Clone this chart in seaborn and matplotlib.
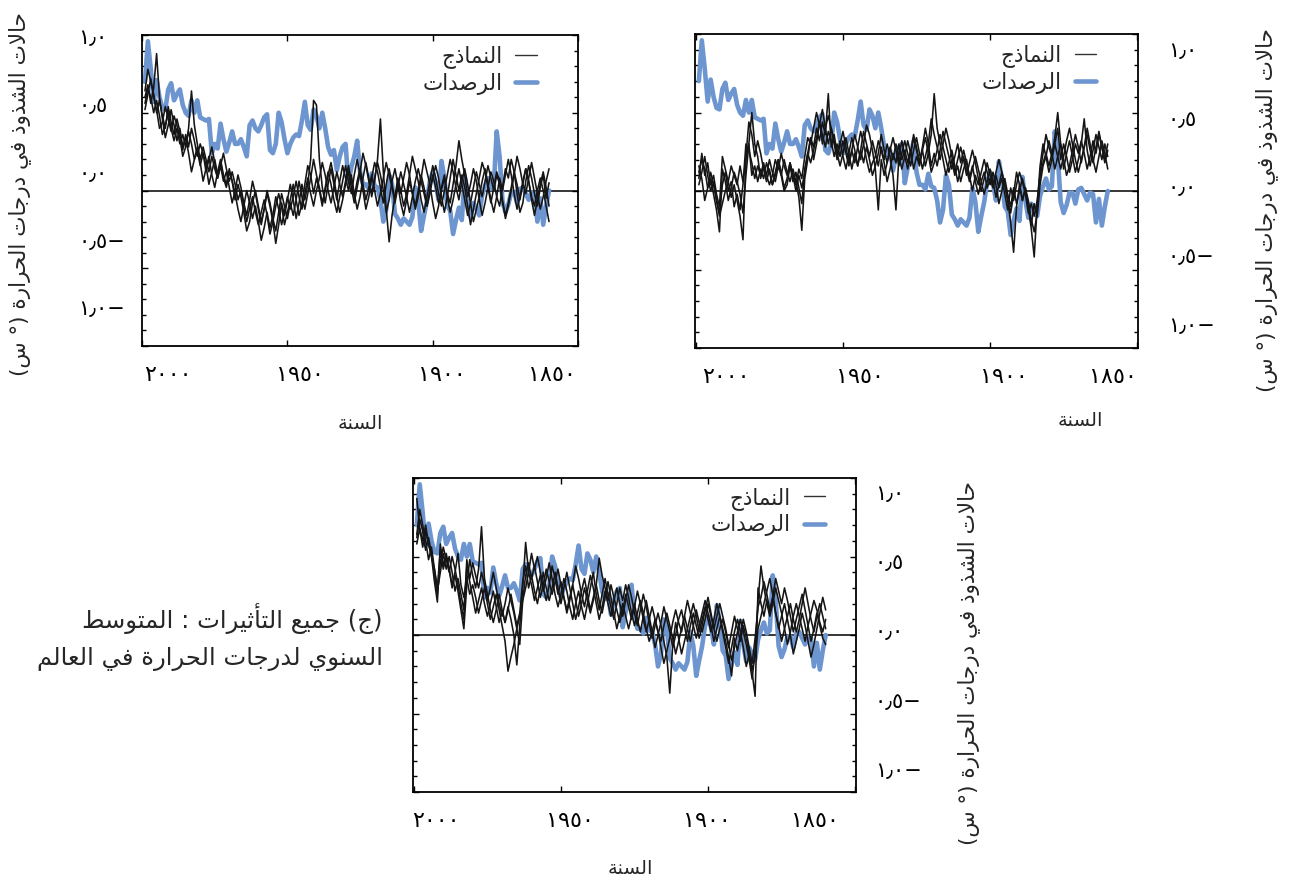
import numpy as np
import pandas as pd
import matplotlib
matplotlib.use("Agg")
import matplotlib.pyplot as plt
from matplotlib.lines import Line2D
from matplotlib.ticker import MultipleLocator
import seaborn as sns

# ==================================================
# DATA (annual anomalies, 1860-1999)
# ==================================================

years = np.arange(1860, 2000)

observations = [
    0.00, -0.10, -0.22, -0.05, -0.20, -0.02, -0.01, -0.06, -0.02, 0.02,
    0.01, -0.08, -0.01, -0.01, -0.09, -0.14, -0.07, 0.22, 0.38, 0.03,
    0.01, 0.08, 0.03, -0.03, -0.16, -0.12, -0.08, -0.17, -0.06, 0.09,
    -0.19, -0.11, -0.19, -0.28, -0.13, -0.10, 0.08, 0.19, -0.06, 0.05,
    0.12, 0.06, -0.07, -0.16, -0.26, -0.07, 0.02, -0.17, -0.22, -0.20,
    -0.18, -0.22, -0.18, -0.15, 0.04, 0.10, -0.12, -0.20, -0.06, 0.02,
    0.03, 0.11, 0.01, 0.04, 0.04, 0.12, 0.32, 0.22, 0.15, 0.05,
    0.30, 0.28, 0.22, 0.13, 0.26, 0.23, 0.28, 0.40, 0.50, 0.40,
    0.48, 0.52, 0.39, 0.42, 0.57, 0.45, 0.35, 0.36, 0.34, 0.30,
    0.24, 0.33, 0.44, 0.50, 0.30, 0.24, 0.26, 0.49, 0.47, 0.42,
    0.38, 0.40, 0.45, 0.42, 0.22, 0.28, 0.33, 0.30, 0.30, 0.38,
    0.31, 0.25, 0.33, 0.43, 0.27, 0.30, 0.24, 0.46, 0.45, 0.46,
    0.47, 0.58, 0.50, 0.58, 0.48, 0.50, 0.55, 0.65, 0.62, 0.58,
    0.69, 0.65, 0.52, 0.53, 0.60, 0.71, 0.57, 0.78, 0.96, 0.70,
]

# top-left panel: model runs
anthro_1 = [
    0.05, -0.05, 0.10, 0.02, -0.10, -0.02, 0.08, 0.16, 0.06, -0.08,
    -0.14, -0.02, 0.12, 0.20, 0.08, 0.14, 0.02, -0.10, -0.04, 0.06,
    0.12, 0.02, -0.08, -0.16, -0.06, 0.06, 0.14, 0.04, -0.04, 0.10,
    0.20, 0.32, 0.16, 0.04, -0.08, -0.02, 0.10, 0.02, -0.10, -0.18,
    -0.08, 0.04, 0.12, 0.20, 0.08, -0.04, -0.12, -0.02, 0.06, -0.06,
    -0.16, -0.08, 0.04, 0.14, 0.06, -0.06, -0.14, 0.00, 0.10, 0.18,
    0.08, -0.02, 0.06, 0.16, 0.24, 0.12, 0.02, -0.08, 0.02, 0.12,
    0.04, -0.06, -0.14, -0.04, 0.08, 0.18, 0.10, 0.00, -0.08, 0.02,
    0.10, 0.20, 0.08, -0.02, -0.12, -0.04, 0.06, -0.06, -0.16, -0.08,
    -0.18, -0.10, -0.02, -0.14, -0.26, -0.18, -0.08, 0.00, -0.12, -0.22,
    -0.12, -0.02, 0.06, -0.06, -0.16, -0.08, 0.02, 0.10, 0.00, -0.08,
    0.02, 0.12, 0.06, 0.16, 0.08, 0.18, 0.28, 0.20, 0.12, 0.24,
    0.30, 0.22, 0.32, 0.40, 0.28, 0.36, 0.26, 0.38, 0.46, 0.36,
    0.44, 0.54, 0.40, 0.48, 0.58, 0.50, 0.62, 0.70, 0.78, 0.64,
]
anthro_2 = [
    -0.10, 0.02, 0.12, 0.04, -0.06, -0.16, -0.06, 0.06, 0.14, 0.06,
    -0.04, -0.12, -0.02, 0.10, 0.20, 0.10, 0.00, 0.08, -0.04, -0.14,
    -0.06, 0.04, 0.14, 0.06, -0.04, -0.12, -0.20, -0.08, 0.04, 0.14,
    0.06, -0.06, 0.02, 0.12, 0.20, 0.10, 0.00, -0.10, -0.02, 0.08,
    0.16, 0.06, -0.04, -0.14, -0.06, 0.06, 0.14, 0.22, 0.10, -0.02,
    -0.10, 0.00, 0.08, -0.04, -0.16, -0.33, -0.12, 0.12, 0.46, 0.20,
    0.06, -0.04, 0.08, 0.18, 0.08, -0.04, -0.12, -0.02, 0.10, 0.00,
    0.08, 0.16, 0.06, -0.06, 0.04, 0.14, 0.04, -0.08, 0.02, 0.20,
    0.55, 0.58, 0.20, 0.04, -0.06, 0.04, -0.08, -0.18, -0.06, 0.04,
    -0.06, -0.16, -0.08, -0.22, -0.34, -0.20, -0.10, -0.02, -0.12, -0.20,
    -0.10, 0.00, -0.08, -0.20, -0.26, -0.14, -0.04, 0.04, -0.06, 0.06,
    0.14, 0.04, 0.10, 0.20, 0.12, 0.02, 0.10, 0.22, 0.14, 0.06,
    0.18, 0.28, 0.20, 0.12, 0.24, 0.34, 0.28, 0.40, 0.32, 0.42,
    0.52, 0.42, 0.34, 0.46, 0.60, 0.88, 0.66, 0.56, 0.68, 0.60,
]
anthro_3 = [
    0.14, 0.06, -0.04, -0.12, -0.02, 0.08, 0.18, 0.08, -0.02, 0.04,
    0.14, 0.22, 0.10, 0.00, -0.10, -0.18, -0.06, 0.06, 0.12, 0.02,
    -0.08, 0.02, 0.12, 0.18, 0.08, -0.02, -0.12, -0.22, -0.10, 0.02,
    0.10, 0.00, 0.10, 0.20, 0.08, -0.04, -0.14, -0.04, 0.08, 0.16,
    0.08, -0.02, -0.10, 0.02, 0.10, 0.00, -0.10, -0.02, 0.10, 0.18,
    0.08, -0.02, 0.06, -0.06, 0.04, 0.14, 0.04, -0.08, 0.02, 0.12,
    0.18, 0.08, -0.04, -0.12, 0.00, 0.10, 0.20, 0.10, -0.02, 0.06,
    0.16, 0.06, -0.04, -0.14, -0.06, 0.04, 0.12, 0.02, -0.10, 0.00,
    0.08, -0.02, 0.10, 0.16, 0.04, -0.08, -0.16, -0.06, 0.04, -0.06,
    -0.14, -0.22, -0.10, -0.02, -0.10, -0.20, -0.28, -0.16, -0.06, -0.14,
    -0.22, -0.14, -0.04, -0.12, -0.20, -0.10, 0.00, -0.06, 0.04, 0.12,
    0.06, 0.14, 0.24, 0.16, 0.08, 0.14, 0.22, 0.12, 0.20, 0.28,
    0.20, 0.30, 0.42, 0.64, 0.40, 0.28, 0.36, 0.30, 0.40, 0.32,
    0.40, 0.50, 0.42, 0.36, 0.48, 0.58, 0.50, 0.60, 0.66, 0.56,
]
anthro_4 = [
    -0.20, -0.10, 0.00, 0.08, 0.00, -0.10, -0.04, 0.06, 0.14, 0.04,
    -0.06, 0.04, 0.12, 0.02, -0.08, -0.16, -0.08, 0.04, 0.10, 0.00,
    0.08, 0.16, 0.06, -0.04, 0.04, 0.12, 0.02, -0.08, -0.16, -0.06,
    0.04, 0.14, 0.04, -0.06, -0.14, -0.04, 0.08, 0.00, -0.08, 0.02,
    0.10, 0.00, -0.10, -0.02, 0.06, 0.14, 0.06, -0.04, -0.14, -0.04,
    0.04, 0.12, 0.02, -0.08, 0.02, 0.10, 0.18, 0.08, -0.02, -0.10,
    0.00, 0.10, 0.02, -0.06, 0.04, 0.14, 0.06, -0.04, 0.06, 0.16,
    0.06, -0.04, 0.04, 0.12, 0.02, -0.08, 0.00, 0.10, 0.18, 0.08,
    0.00, -0.10, -0.02, 0.08, -0.02, -0.12, -0.04, 0.06, -0.04, -0.12,
    -0.04, -0.14, -0.22, -0.12, -0.04, -0.16, -0.24, -0.14, -0.24, -0.32,
    -0.20, -0.10, -0.18, -0.08, 0.00, -0.10, -0.20, -0.12, -0.02, 0.06,
    0.12, 0.02, 0.08, 0.18, 0.10, 0.20, 0.12, 0.04, 0.16, 0.24,
    0.16, 0.26, 0.20, 0.30, 0.38, 0.28, 0.22, 0.34, 0.42, 0.48,
    0.38, 0.46, 0.54, 0.44, 0.40, 0.52, 0.60, 0.72, 0.62, 0.52,
]

# top-right panel: model runs
natural_1 = [
    0.22, 0.30, 0.20, 0.28, 0.36, 0.26, 0.16, 0.26, 0.46, 0.30,
    0.20, 0.12, 0.22, 0.32, 0.24, 0.14, 0.30, 0.50, 0.34, 0.22,
    0.28, 0.36, 0.24, 0.12, -0.14, -0.26, -0.18, -0.06, 0.02, -0.06,
    0.04, -0.10, -0.39, -0.20, -0.06, 0.04, 0.12, 0.04, -0.04, 0.06,
    0.14, 0.06, -0.02, 0.06, 0.14, 0.22, 0.14, 0.06, 0.14, 0.22,
    0.14, 0.06, 0.16, 0.26, 0.18, 0.10, 0.20, 0.30, 0.40, 0.62,
    0.36, 0.24, 0.16, 0.26, 0.18, 0.28, 0.36, 0.24, 0.14, 0.22,
    0.32, 0.22, -0.12, 0.10, 0.22, 0.30, 0.20, 0.28, 0.16, 0.24,
    0.32, 0.22, 0.30, 0.38, 0.26, 0.16, 0.26, 0.34, 0.24, 0.14,
    0.22, 0.32, 0.24, 0.36, 0.28, 0.62, 0.36, 0.44, 0.32, 0.40,
    0.28, 0.34, 0.20, 0.08, -0.25, -0.04, 0.06, 0.14, 0.06, 0.12,
    0.20, 0.10, 0.16, 0.06, 0.12, 0.20, 0.10, 0.16, 0.08, 0.22,
    0.30, 0.50, 0.30, 0.10, -0.14, -0.02, 0.06, 0.12, 0.02, -0.06,
    0.06, 0.14, -0.26, -0.12, -0.02, 0.08, 0.02, 0.14, 0.20, 0.12,
]
natural_2 = [
    0.30, 0.20, 0.28, 0.38, 0.28, 0.18, 0.26, 0.36, 0.28, 0.20,
    0.12, 0.20, 0.30, 0.40, 0.32, 0.22, 0.14, 0.22, 0.30, 0.20,
    0.12, 0.22, 0.30, 0.16, -0.10, -0.42, -0.24, -0.10, 0.02, -0.06,
    0.04, 0.12, -0.02, -0.14, -0.06, 0.04, 0.12, 0.20, 0.12, 0.04,
    0.10, 0.18, 0.08, 0.00, 0.08, 0.18, 0.26, 0.18, 0.10, 0.20,
    0.28, 0.20, 0.12, 0.22, 0.32, 0.40, 0.30, 0.20, 0.28, 0.36,
    0.46, 0.30, 0.22, 0.14, 0.24, 0.34, 0.26, 0.16, 0.24, 0.32,
    0.24, 0.16, 0.26, 0.34, 0.26, 0.18, 0.10, 0.20, -0.12, 0.14,
    0.26, 0.36, 0.42, 0.30, 0.20, 0.28, 0.36, 0.26, 0.18, 0.28,
    0.38, 0.30, 0.20, 0.30, 0.40, 0.48, 0.40, 0.30, 0.44, 0.34,
    0.26, 0.18, 0.24, 0.12, 0.02, 0.10, 0.00, 0.10, 0.18, 0.08,
    0.02, 0.12, 0.20, 0.10, 0.04, 0.14, 0.06, 0.14, 0.24, 0.32,
    0.22, 0.36, 0.44, 0.22, -0.31, -0.16, -0.06, 0.04, -0.04, 0.06,
    0.00, -0.08, -0.16, -0.06, 0.06, 0.00, 0.10, 0.22, 0.12, 0.04,
]
natural_3 = [
    0.14, 0.24, 0.32, 0.22, 0.12, 0.20, 0.30, 0.40, 0.28, 0.18,
    0.28, 0.36, 0.26, 0.16, 0.10, 0.20, 0.30, 0.22, 0.14, 0.24,
    0.32, 0.22, 0.16, 0.04, -0.16, -0.08, -0.22, -0.10, 0.00, 0.08,
    0.00, -0.08, 0.02, -0.10, -0.02, 0.08, 0.00, -0.08, 0.04, 0.12,
    0.04, 0.12, 0.20, 0.12, 0.04, 0.10, 0.00, 0.10, 0.18, 0.26,
    0.18, 0.30, 0.22, 0.14, 0.22, 0.30, 0.38, 0.26, 0.16, 0.24,
    0.16, 0.30, 0.40, 0.28, 0.18, 0.26, 0.34, 0.24, 0.32, 0.22,
    0.14, 0.22, 0.30, 0.20, 0.28, 0.18, 0.26, 0.36, 0.24, 0.16,
    0.10, 0.20, 0.28, 0.18, 0.26, 0.16, 0.24, 0.14, 0.24, 0.34,
    0.24, 0.16, 0.24, 0.32, 0.40, 0.30, 0.40, 0.52, 0.42, 0.50,
    0.40, 0.30, 0.34, 0.22, 0.08, 0.14, 0.04, 0.10, 0.18, 0.10,
    0.16, 0.24, 0.14, 0.20, 0.10, 0.04, 0.10, 0.18, 0.10, 0.16,
    0.08, 0.18, 0.26, 0.30, 0.04, -0.12, -0.02, -0.10, 0.06, 0.00,
    0.12, 0.04, -0.14, -0.06, 0.04, 0.12, 0.02, -0.06, 0.08, 0.16,
]
natural_4 = [
    0.26, 0.18, 0.28, 0.36, 0.24, 0.32, 0.22, 0.14, 0.24, 0.32,
    0.24, 0.30, 0.20, 0.12, 0.22, 0.30, 0.20, 0.40, 0.30, 0.24,
    0.16, 0.24, 0.18, 0.10, -0.06, -0.16, -0.08, -0.14, -0.02, 0.06,
    0.12, 0.04, -0.06, 0.02, -0.12, -0.02, 0.08, 0.02, 0.10, 0.02,
    0.08, 0.02, 0.12, 0.06, -0.02, 0.06, 0.16, 0.08, 0.20, 0.14,
    0.06, 0.16, 0.10, 0.20, 0.12, 0.20, 0.28, 0.36, 0.26, 0.18,
    0.12, 0.24, 0.34, 0.26, 0.16, 0.22, 0.14, 0.26, 0.18, 0.26,
    0.20, 0.30, 0.18, 0.24, 0.14, 0.06, 0.18, 0.26, 0.32, 0.22,
    0.18, 0.12, 0.20, 0.30, 0.38, 0.28, 0.18, 0.26, 0.16, 0.24,
    0.32, 0.22, 0.30, 0.22, 0.32, 0.38, 0.28, 0.36, 0.44, 0.30,
    0.20, 0.34, 0.24, 0.14, -0.08, 0.02, 0.12, 0.06, 0.16, 0.04,
    0.00, 0.10, 0.20, 0.12, 0.04, 0.12, 0.18, 0.08, 0.14, 0.06,
    0.16, 0.10, 0.30, 0.20, 0.06, 0.16, 0.04, 0.10, 0.16, 0.06,
    0.14, 0.22, -0.10, -0.02, 0.10, 0.04, 0.18, 0.10, 0.24, 0.08,
]

# bottom panel: model runs
combined_1 = [
    0.10, 0.02, 0.08, 0.16, 0.22, 0.14, 0.06, -0.04, 0.04, 0.12,
    0.20, 0.12, 0.02, -0.06, 0.04, 0.14, 0.22, 0.30, 0.20, 0.12,
    0.20, 0.30, 0.44, 0.22, -0.10, -0.28, -0.16, -0.06, 0.02, 0.10,
    0.02, -0.08, -0.16, -0.06, 0.04, 0.12, 0.20, 0.12, 0.04, 0.12,
    0.20, 0.10, 0.02, 0.08, 0.16, 0.06, -0.04, 0.04, 0.12, 0.04,
    -0.04, -0.12, -0.02, 0.06, 0.14, 0.06, -0.04, 0.02, 0.10, 0.18,
    0.10, 0.02, 0.10, 0.20, 0.28, 0.18, 0.10, 0.18, 0.26, 0.16,
    0.08, 0.16, 0.24, 0.32, 0.22, 0.30, 0.38, 0.49, 0.32, 0.22,
    0.14, 0.22, 0.30, 0.20, 0.12, 0.22, 0.32, 0.24, 0.16, 0.24,
    0.32, 0.42, 0.34, 0.26, 0.34, 0.42, 0.32, 0.24, 0.34, 0.44,
    0.36, 0.46, 0.38, 0.22, -0.06, 0.04, 0.14, 0.22, 0.30, 0.20,
    0.12, 0.20, 0.30, 0.40, 0.30, 0.22, 0.32, 0.40, 0.30, 0.38,
    0.46, 0.36, 0.48, 0.10, 0.20, 0.32, 0.42, 0.50, 0.40, 0.48,
    0.56, 0.46, 0.26, 0.38, 0.52, 0.62, 0.54, 0.66, 0.74, 0.62,
]
combined_2 = [
    -0.06, -0.02, 0.06, 0.14, 0.04, -0.04, 0.06, 0.16, 0.26, 0.18,
    0.10, 0.02, 0.12, 0.22, 0.30, 0.20, 0.28, 0.36, 0.24, 0.14,
    0.22, 0.12, 0.20, 0.30, -0.39, -0.24, -0.12, -0.20, -0.08, 0.02,
    0.10, 0.02, -0.08, -0.18, -0.08, 0.02, 0.12, 0.20, 0.10, 0.02,
    0.10, 0.18, 0.10, 0.02, 0.12, 0.20, 0.12, 0.04, -0.04, -0.12,
    -0.02, 0.08, -0.06, -0.37, -0.14, -0.04, 0.06, 0.14, 0.06, -0.02,
    0.08, 0.18, 0.26, 0.16, 0.06, 0.14, 0.24, 0.32, 0.22, 0.12,
    0.20, 0.30, 0.22, 0.12, 0.20, 0.28, 0.18, 0.10, 0.20, 0.30,
    0.38, 0.28, 0.18, 0.26, 0.36, 0.44, 0.32, 0.22, 0.14, 0.24,
    0.34, 0.26, 0.36, 0.44, 0.32, 0.22, 0.30, 0.40, 0.50, 0.42,
    0.52, 0.40, 0.59, 0.30, 0.06, -0.19, 0.00, 0.10, 0.18, 0.08,
    0.16, 0.26, 0.16, 0.08, 0.16, 0.26, 0.36, 0.69, 0.42, 0.30,
    0.38, 0.48, 0.32, 0.04, 0.16, 0.28, 0.38, 0.30, 0.42, 0.52,
    0.44, 0.58, 0.21, 0.34, 0.50, 0.58, 0.70, 0.60, 0.68, 0.87,
]
combined_3 = [
    0.16, 0.24, 0.14, 0.04, -0.06, -0.14, -0.04, 0.06, 0.14, 0.04,
    -0.04, -0.12, 0.00, 0.10, 0.20, 0.12, 0.04, 0.14, 0.24, 0.16,
    0.26, 0.34, 0.24, 0.18, -0.02, -0.18, -0.08, 0.02, 0.10, 0.00,
    -0.10, -0.02, -0.26, -0.14, -0.04, 0.04, 0.12, 0.04, -0.04, 0.06,
    0.14, 0.22, 0.14, 0.06, -0.02, 0.06, 0.14, 0.22, 0.12, 0.02,
    0.08, 0.16, 0.08, -0.02, -0.10, -0.18, -0.08, 0.02, 0.10, 0.02,
    -0.04, 0.04, 0.14, 0.22, 0.14, 0.06, 0.14, 0.24, 0.32, 0.22,
    0.30, 0.20, 0.10, 0.18, 0.26, 0.36, 0.26, 0.16, 0.26, 0.40,
    0.30, 0.20, 0.10, 0.18, 0.28, 0.20, 0.10, 0.18, 0.28, 0.36,
    0.26, 0.18, 0.26, 0.36, 0.46, 0.36, 0.28, 0.38, 0.30, 0.22,
    0.32, 0.40, 0.30, 0.22, 0.12, 0.04, -0.06, -0.14, -0.23, -0.04,
    0.06, 0.16, 0.26, 0.18, 0.10, 0.20, 0.30, 0.22, 0.14, 0.24,
    0.32, 0.26, 0.36, 0.24, 0.32, 0.52, 0.40, 0.32, 0.42, 0.50,
    0.42, 0.54, 0.30, 0.42, 0.50, 0.58, 0.66, 0.56, 0.68, 0.58,
]
combined_4 = [
    0.04, 0.12, 0.20, 0.12, 0.02, 0.10, 0.20, 0.30, 0.20, 0.10,
    0.02, 0.10, 0.20, 0.12, 0.04, -0.04, 0.06, 0.14, 0.26, 0.36,
    0.28, 0.20, 0.12, 0.04, -0.14, -0.22, -0.12, -0.02, 0.06, -0.04,
    0.04, 0.12, 0.02, -0.08, 0.02, 0.10, 0.04, -0.04, 0.04, 0.14,
    0.24, 0.16, 0.06, -0.02, 0.06, 0.14, 0.06, -0.04, 0.06, 0.16,
    0.10, 0.00, -0.08, 0.02, 0.10, 0.18, 0.08, 0.00, -0.08, 0.02,
    0.12, 0.22, 0.12, 0.02, 0.10, 0.20, 0.12, 0.04, 0.12, 0.20,
    0.12, 0.04, 0.14, 0.24, 0.34, 0.24, 0.14, 0.22, 0.32, 0.24,
    0.16, 0.26, 0.36, 0.28, 0.18, 0.10, 0.20, 0.30, 0.40, 0.30,
    0.20, 0.30, 0.40, 0.30, 0.22, 0.30, 0.40, 0.30, 0.20, 0.28,
    0.38, 0.30, 0.44, 0.34, 0.14, 0.06, 0.16, 0.26, 0.16, 0.08,
    0.16, 0.08, 0.18, 0.28, 0.20, 0.12, 0.20, 0.30, 0.22, 0.14,
    0.24, 0.34, 0.44, 0.16, 0.26, 0.36, 0.28, 0.40, 0.50, 0.42,
    0.52, 0.40, 0.28, 0.42, 0.56, 0.48, 0.60, 0.70, 0.80, 0.64,
]

# tick labels (Arabic-Indic digits)
xtick_years = [2000, 1950, 1900, 1850]
xtick_text = ["٢٠٠٠", "١٩٥٠", "١٩٠٠", "١٨٥٠"]
ytick_vals = [1.0, 0.5, 0.0, -0.5, -1.0]
ytick_text = ["١٫٠", "٠٫٥", "٠٫٠", "٠٫٥−", "١٫٠−"]

label_models = "النماذج"
label_obs = "الرصدات"
label_year = "السنة"
label_anomaly = "حالات الشذوذ في درجات الحرارة (° س)"
caption_lines = ["(ج) جميع التأثيرات : المتوسط", "السنوي لدرجات الحرارة في العالم"]

OBS_BLUE = "#6d95cf"
RUN_BLACK = "#151515"

# ==================================================
# SIMPLE ARABIC SHAPING (matplotlib has no bidi / joining)
# ==================================================

DUAL = {"ت": 0xFE95, "ث": 0xFE99, "ج": 0xFE9D, "ح": 0xFEA1, "س": 0xFEB1,
        "ش": 0xFEB5, "ص": 0xFEB9, "ط": 0xFEC1, "ع": 0xFEC9, "ف": 0xFED1,
        "ل": 0xFEDD, "م": 0xFEE1, "ن": 0xFEE5, "ه": 0xFEE9, "ي": 0xFEF1}
RIGHT = {"ا": 0xFE8D, "أ": 0xFE83, "ة": 0xFE93, "د": 0xFEA9, "ذ": 0xFEAB,
         "ر": 0xFEAD, "و": 0xFEED}
LETTERS = {**DUAL, **RIGHT}
LAM_ALEF = {"ا": (0xFEFB, 0xFEFC), "أ": (0xFEF7, 0xFEF8)}


def ar(text):
    out = []
    i = 0
    while i < len(text):
        ch = text[i]
        if ch not in LETTERS:
            out.append(ch)
            i += 1
            continue
        joins_prev = i > 0 and text[i - 1] in DUAL
        nxt = text[i + 1] if i + 1 < len(text) else ""
        if ch == "ل" and nxt in LAM_ALEF:
            iso, fin = LAM_ALEF[nxt]
            out.append(chr(fin if joins_prev else iso))
            i += 2
            continue
        joins_next = ch in DUAL and nxt in LETTERS
        base = LETTERS[ch]
        if joins_prev and joins_next:
            out.append(chr(base + 3))
        elif joins_prev:
            out.append(chr(base + 1))
        elif joins_next:
            out.append(chr(base + 2))
        else:
            out.append(chr(base))
        i += 1
    visual = "".join(reversed(out))
    return visual.translate(str.maketrans("()", ")("))


# ==================================================
# STYLE
# ==================================================

sns.set_theme(style="ticks", rc={
    "axes.linewidth": 1.3,
    "axes.edgecolor": "black",
    "xtick.color": "black",
    "ytick.color": "black",
})
plt.rcParams["font.family"] = ["DejaVu Sans"]

fig = plt.figure(figsize=(12.95, 8.82), dpi=100)

# where each year label sits (in data years) - the original labels drift
# away from their tick marks
panels = [
    dict(rect=[0.1097, 0.6077, 0.3367, 0.3526], xlim=(1999.3, 1851.0),
         runs=[anthro_1, anthro_2, anthro_3, anthro_4], side="left",
         ylab=(-0.28, 0.49), xlab=(0.5, -0.248), ymap=(0.872, 0.12),
         xlabpos=[1859.0, 1896.7, 1945.6, 1991.1], ypad=46,
         leg=(0.94, 1.015)),
    dict(rect=[0.5367, 0.6054, 0.3421, 0.356], xlim=(2000.3, 1849.7),
         runs=[natural_1, natural_2, natural_3, natural_4], side="right",
         ylab=(1.291, 0.44), xlab=(0.87, -0.232), ymap=(0.876, 0.03),
         xlabpos=[1858.2, 1895.2, 1944.2, 1989.8], ypad=21.5,
         leg=(0.94, 1.015)),
    dict(rect=[0.3189, 0.1020, 0.3421, 0.356], xlim=(2000.3, 1849.7),
         runs=[combined_1, combined_2, combined_3, combined_4], side="right",
         ylab=(1.253, 0.41), xlab=(0.49, -0.242), ymap=(0.882, 0.03),
         xlabpos=[1863.5, 1900.3, 1946.9, 1992.5], ypad=13.5,
         leg=(0.965, 1.02)),
]

obs_df = pd.DataFrame({"year": years, "value": observations})

for p in panels:
    ax = fig.add_axes(p["rect"])

    runs_df = pd.DataFrame({
        "year": np.tile(years, len(p["runs"])),
        "value": np.concatenate(p["runs"]),
        "run": np.repeat(np.arange(len(p["runs"])), len(years)),
    })

    sns.lineplot(data=obs_df, x="year", y="value", color=OBS_BLUE,
                 linewidth=3.3, ax=ax, legend=False)
    sns.lineplot(data=runs_df, x="year", y="value", units="run",
                 estimator=None, color=RUN_BLACK, linewidth=1.15, ax=ax,
                 legend=False)
    ax.axhline(0, color="black", linewidth=1.1, zorder=1)

    ax.set_xlim(*p["xlim"])
    ax.set_ylim(-1.0, 1.0)

    # tick marks (inward, no labels on the main axis)
    ax.set_xticks(xtick_years)
    ax.yaxis.set_major_locator(MultipleLocator(0.5))
    ax.yaxis.set_minor_locator(MultipleLocator(0.1))
    ax.tick_params(axis="x", direction="in", top=True, bottom=True,
                   length=4, width=1.0, labelbottom=False)
    ax.tick_params(axis="y", which="major", direction="in", left=True,
                   right=True, length=4.5, width=1.0,
                   labelleft=False, labelright=False)
    ax.tick_params(axis="y", which="minor", direction="in", left=True,
                   right=True, length=3, width=1.0)

    # tick labels sit on their own scale, as in the original layout
    a, b = p["ymap"]
    sec_y = ax.secondary_yaxis(
        p["side"],
        functions=(lambda y, a=a, b=b: (y - b) / a,
                   lambda v, a=a, b=b: a * v + b))
    sec_y.set_yticks(ytick_vals, labels=ytick_text, ha="left")
    sec_y.tick_params(length=0, pad=p["ypad"], labelsize=15)
    for s in sec_y.spines.values():
        s.set_visible(False)

    prim = [1700.0] + p["xlabpos"] + [2300.0]
    lab = [1700.0] + sorted(xtick_years) + [2300.0]
    sec_x = ax.secondary_xaxis(
        "bottom",
        functions=(lambda x, pr=prim, lb=lab: np.interp(x, pr, lb),
                   lambda v, pr=prim, lb=lab: np.interp(v, lb, pr)))
    sec_x.set_xticks(xtick_years, labels=xtick_text)
    sec_x.tick_params(length=0, pad=14, labelsize=16)
    for s in sec_x.spines.values():
        s.set_visible(False)

    # axis labels
    if p["side"] == "right":
        ax.yaxis.set_label_position("right")
    ax.set_ylabel(ar(label_anomaly), fontsize=15.5, rotation=90,
                  ha="center", va="center")
    ax.yaxis.set_label_coords(*p["ylab"])
    ax.set_xlabel(ar(label_year), fontsize=14, va="center")
    ax.xaxis.set_label_coords(*p["xlab"])

    handles = [Line2D([], [], color="#333333", linewidth=1.0),
               Line2D([], [], color=OBS_BLUE, linewidth=3.3)]
    ax.legend(handles, [ar(label_models), ar(label_obs)], loc="upper right",
              bbox_to_anchor=p["leg"], frameon=False, markerfirst=False,
              handlelength=1.0, handletextpad=0.6, labelspacing=0.2,
              fontsize=15.5, borderaxespad=0.3)

fig.text(383 / 1295, 1 - 637 / 882,
         "\n".join(ar(line) for line in caption_lines),
         ha="right", va="center", fontsize=17.5, linespacing=1.6)

fig.savefig("out.png", dpi=100)
